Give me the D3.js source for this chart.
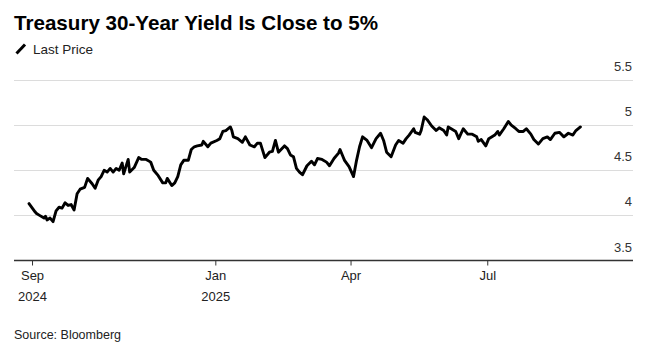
<!DOCTYPE html>
<html>
<head>
<meta charset="utf-8">
<script src="https://cdn.jsdelivr.net/npm/d3@7"></script>
<style>
	html, body { margin: 0; padding: 0; background: #fff; }
	svg { display: block; font-family: "Liberation Sans", Arial, Helvetica, sans-serif; }
</style>
</head>
<body>
<script>
// Treasury 30-year yield, last price
const dates = [
	"2024-08-30","2024-09-03","2024-09-04","2024-09-06","2024-09-09","2024-09-10","2024-09-11","2024-09-13",
	"2024-09-15","2024-09-17","2024-09-19","2024-09-21","2024-09-23","2024-09-25","2024-09-27","2024-09-29",
	"2024-10-01","2024-10-03","2024-10-06","2024-10-08","2024-10-11","2024-10-13","2024-10-15","2024-10-17",
	"2024-10-19","2024-10-21","2024-10-23","2024-10-25","2024-10-27","2024-10-29","2024-10-31","2024-11-01",
	"2024-11-04","2024-11-05","2024-11-08","2024-11-11","2024-11-13","2024-11-16","2024-11-19","2024-11-21",
	"2024-11-24","2024-11-27","2024-11-29","2024-11-30","2024-12-03","2024-12-05","2024-12-07","2024-12-09",
	"2024-12-11","2024-12-14","2024-12-16","2024-12-18","2024-12-20","2024-12-23","2024-12-24","2024-12-27",
	"2024-12-29","2025-01-02","2025-01-04","2025-01-06","2025-01-08","2025-01-11","2025-01-12","2025-01-13",
	"2025-01-16","2025-01-19","2025-01-21","2025-01-24","2025-01-27","2025-01-29","2025-01-31","2025-02-03",
	"2025-02-06","2025-02-08","2025-02-10","2025-02-12","2025-02-16","2025-02-18","2025-02-20","2025-02-22",
	"2025-02-24","2025-02-26","2025-02-28","2025-03-03","2025-03-06","2025-03-08","2025-03-10","2025-03-13",
	"2025-03-16","2025-03-18","2025-03-21","2025-03-24","2025-03-25","2025-03-27","2025-03-28","2025-03-31",
	"2025-04-03","2025-04-05","2025-04-07","2025-04-09","2025-04-12","2025-04-15","2025-04-18","2025-04-21",
	"2025-04-23","2025-04-25","2025-04-28","2025-05-01","2025-05-03","2025-05-06","2025-05-08","2025-05-10",
	"2025-05-13","2025-05-14","2025-05-17","2025-05-18","2025-05-20","2025-05-22","2025-05-25","2025-05-28",
	"2025-05-30","2025-06-02","2025-06-04","2025-06-05","2025-06-07","2025-06-10","2025-06-12","2025-06-15",
	"2025-06-18","2025-06-21","2025-06-24","2025-06-25","2025-06-27","2025-06-30","2025-07-02","2025-07-06",
	"2025-07-08","2025-07-09","2025-07-12","2025-07-15","2025-07-17","2025-07-20","2025-07-22","2025-07-25",
	"2025-07-27","2025-07-30","2025-08-01","2025-08-04","2025-08-07","2025-08-10","2025-08-12","2025-08-15",
	"2025-08-18","2025-08-21","2025-08-24","2025-08-27","2025-08-29","2025-09-01"
];
const yields = [
	4.13,4.04,4.02,4.00,3.97,3.99,3.95,3.97,
	3.93,4.05,4.09,4.08,4.14,4.11,4.12,4.06,
	4.24,4.29,4.31,4.41,4.35,4.30,4.39,4.43,
	4.50,4.48,4.52,4.48,4.52,4.50,4.58,4.46,
	4.62,4.48,4.53,4.64,4.62,4.62,4.59,4.50,
	4.44,4.36,4.36,4.41,4.33,4.36,4.43,4.56,
	4.61,4.61,4.73,4.76,4.77,4.78,4.82,4.76,
	4.80,4.83,4.85,4.93,4.94,4.98,4.94,4.87,
	4.85,4.81,4.87,4.78,4.76,4.80,4.80,4.64,
	4.70,4.71,4.83,4.70,4.77,4.74,4.67,4.65,
	4.52,4.48,4.45,4.55,4.60,4.56,4.63,4.62,
	4.59,4.55,4.63,4.69,4.73,4.65,4.61,4.54,
	4.43,4.61,4.76,4.87,4.83,4.75,4.85,4.91,
	4.83,4.70,4.65,4.78,4.83,4.80,4.85,4.89,
	4.96,4.92,4.90,4.94,5.09,5.06,4.99,4.94,
	4.97,4.94,4.89,4.98,4.96,4.93,4.85,4.96,
	4.90,4.90,4.87,4.82,4.84,4.77,4.85,4.89,
	4.93,4.89,4.96,5.04,5.00,4.96,4.93,4.93,
	4.96,4.90,4.84,4.79,4.85,4.87,4.84,4.91,
	4.92,4.87,4.91,4.89,4.94,4.98
];

const yTicks      = [3.5, 4, 4.5, 5, 5.5];
const xTickDates  = ["2024-09-01", "2025-01-01", "2025-04-01", "2025-07-01"];
const xTickMonths = ["Sep", "Jan", "Apr", "Jul"];
const xTickYears  = ["2024", "2025", "", ""];

const title  = "Treasury 30-Year Yield Is Close to 5%";
const legend = "Last Price";
const source = "Source: Bloomberg";

const width  = 651;
const height = 342;
const plot   = { left: 14, right: 633, top: 80, bottom: 260.5 };

const parse = d3.timeParse("%Y-%m-%d");
const data  = dates.map((d, i) => ({ date: parse(d), value: yields[i] }));

const svg = d3.select("body").append("svg")
	.attr("width", width)
	.attr("height", height)
	.attr("viewBox", `0 0 ${width} ${height}`);

const x = d3.scaleTime()
	.domain([parse("2024-08-20"), parse("2025-10-06")])
	.range([plot.left, plot.right]);

const y = d3.scaleLinear()
	.domain([3.5, 5.5])
	.range([plot.bottom, plot.top]);

// Title + legend
svg.append("text")
	.attr("x", 14)
	.attr("y", 30)
	.attr("font-size", 20.6)
	.attr("font-weight", 700)
	.attr("fill", "#000")
	.text(title);

svg.append("line")
	.attr("x1", 16.5).attr("y1", 53.5)
	.attr("x2", 25).attr("y2", 44.5)
	.attr("stroke", "#000")
	.attr("stroke-width", 3);

svg.append("text")
	.attr("x", 33)
	.attr("y", 54)
	.attr("font-size", 13.5)
	.attr("fill", "#222")
	.text(legend);

// Grid
const grid = svg.append("g").attr("class", "grid");
grid.selectAll("line")
	.data(yTicks.filter(t => t !== 3.5))
	.join("line")
	.attr("x1", plot.left)
	.attr("x2", plot.right)
	.attr("y1", d => Math.round(y(d)) + 0.5)
	.attr("y2", d => Math.round(y(d)) + 0.5)
	.attr("stroke", "#dcdcdc")
	.attr("stroke-width", 1);

grid.selectAll("text")
	.data(yTicks)
	.join("text")
	.attr("x", plot.right - 1)
	.attr("y", d => y(d) - 9)
	.attr("text-anchor", "end")
	.attr("font-size", 13)
	.attr("fill", "#333")
	.text(d => d);

// X axis
const xAxis = d3.axisBottom(x)
	.tickValues(xTickDates.map(parse))
	.tickSize(5)
	.tickPadding(5)
	.tickFormat((d, i) => xTickMonths[i]);

const axisG = svg.append("g")
	.attr("class", "x axis")
	.attr("transform", `translate(0,${plot.bottom})`)
	.call(xAxis);

axisG.select(".domain")
	.attr("d", `M${plot.left},0H${plot.right}`)
	.attr("stroke", "#333")
	.attr("stroke-width", 1.5);

axisG.selectAll(".tick line")
	.attr("stroke", "#333")
	.attr("stroke-width", 1);

axisG.selectAll(".tick text")
	.attr("font-size", 13)
	.attr("font-family", "Liberation Sans, Arial, sans-serif")
	.attr("fill", "#222")
	.each(function(d, i) {
		if (!xTickYears[i]) return;
		d3.select(this.parentNode).append("text")
			.attr("y", 31)
			.attr("dy", "0.71em")
			.attr("text-anchor", "middle")
			.attr("font-size", 13)
			.attr("font-family", "Liberation Sans, Arial, sans-serif")
			.attr("fill", "#222")
			.text(xTickYears[i]);
	});

// Line
const line = d3.line()
	.x(d => x(d.date))
	.y(d => y(d.value));

svg.append("path")
	.datum(data)
	.attr("d", line)
	.attr("fill", "none")
	.attr("stroke", "#000")
	.attr("stroke-width", 2.9)
	.attr("stroke-linejoin", "round")
	.attr("stroke-linecap", "round");

// Source
svg.append("text")
	.attr("x", 14)
	.attr("y", 339)
	.attr("font-size", 12.5)
	.attr("fill", "#222")
	.text(source);
</script>
</body>
</html>
